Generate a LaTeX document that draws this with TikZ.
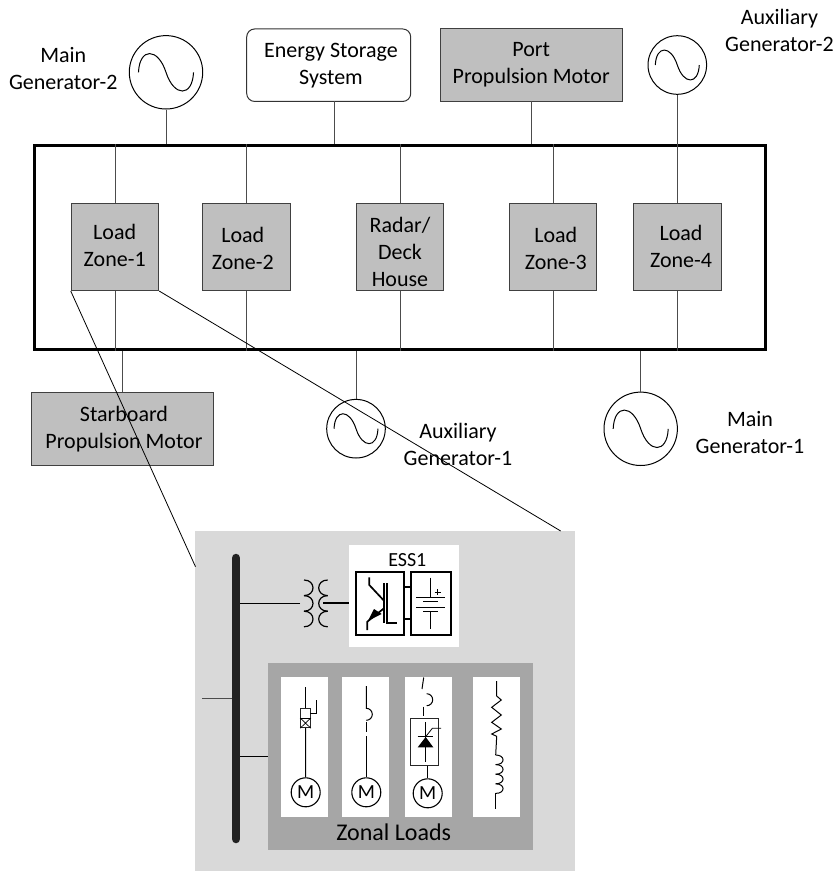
\documentclass[tikz,border=0pt]{standalone}
\usepackage{fontspec}
\setmainfont{Carlito}
\definecolor{blockgray}{HTML}{BFBFBF}
\definecolor{panelgray}{HTML}{D9D9D9}
\definecolor{zonegray}{HTML}{A6A6A6}
\definecolor{buscol}{HTML}{222222}
\tikzset{
  wire/.style={draw=black!70,line width=1pt},
  zoneblock/.style={draw=black!75,fill=blockgray,line width=1pt,minimum width=87.5pt,minimum height=87.5pt,inner sep=0pt},
  bigblock/.style={draw=black!75,fill=blockgray,line width=1pt,minimum height=72.5pt,inner sep=0pt},
  gen/.style={circle,draw=black,line width=1pt,inner sep=0pt},
  wave/.style={draw=black,line width=1pt},
  lbl/.style={align=center,inner sep=0pt,font=\fontsize{22}{27}\selectfont},
  lowered/.style={yshift=-1.5pt},
  motor/.style={circle,draw=black,line width=1.1pt,minimum size=29pt,inner sep=0pt,font=\fontsize{20}{20}\selectfont},
  sym/.style={draw=black,line width=1pt},
  coilwire/.style={draw=black,line width=1.2pt},
  symthick/.style={draw=black,line width=1.7pt},
  strip/.style={fill=white,draw=none,minimum width=47pt,minimum height=140pt,inner sep=0pt},
  zoomline/.style={draw=black,line width=0.8pt}
}
\newcommand{\sinewave}[3]{%
  \draw[wave] (#1-0.75*#3,#2) .. controls (#1-0.72*#3,#2-0.68*#3) and (#1-0.22*#3,#2-0.68*#3) .. (#1,#2) .. controls (#1+0.22*#3,#2+0.68*#3) and (#1+0.72*#3,#2+0.68*#3) .. (#1+0.75*#3,#2);}
\newcommand{\coilright}[4]{%
  \foreach \k in {0,1,2}{\draw[coilwire] (#1,#2+\k*#3) .. controls (#1+1.33*#4,#2+\k*#3) and (#1+1.33*#4,#2+\k*#3+#3) .. (#1,#2+\k*#3+#3);}}
\newcommand{\coilleft}[4]{%
  \foreach \k in {0,1,2}{\draw[coilwire] (#1,#2+\k*#3) .. controls (#1-1.33*#4,#2+\k*#3) and (#1-1.33*#4,#2+\k*#3+#3) .. (#1,#2+\k*#3+#3);}}
\begin{document}
\begin{tikzpicture}[x=1pt,y=-1pt]
\useasboundingbox (0,0) rectangle (838,871);
% top row
\node[gen,minimum size=73.4pt] (g2) at (166,72.3) {};
\sinewave{166}{72.3}{36.7}
\node[lbl,lowered] (g2t) at (63.3,67) {Main\\Generator-2};
\node[draw=black!80,fill=white,rounded corners=8pt,line width=1pt,minimum width=164pt,minimum height=72.5pt,inner sep=0pt] (ess) at (328.7,65.2) {};
\node[lbl,lowered] (esst) at (331,64) {Energy Storage\\System};
\node[bigblock,minimum width=182.3pt,lbl,minimum height=72.5pt] (port) at (531.2,65.2) {Port\\Propulsion Motor};
\node[gen,minimum size=58.6pt] (ag2) at (677.3,65) {};
\sinewave{677.3}{65}{29.3}
\node[lbl,lowered] (ag2t) at (779.5,29) {Auxiliary\\Generator-2};
% main ring
\node[draw=black,line width=3pt,minimum width=731.4pt,minimum height=204pt,inner sep=0pt] (bus) at (400,247) {};
\coordinate (essdrop) at (334,101.4);
\coordinate (portdrop) at (531.3,101.4);
\draw[wire] (g2.south) -- (g2.south |- bus.north);
\draw[wire] (essdrop) -- (essdrop |- bus.north);
\draw[wire] (portdrop) -- (portdrop |- bus.north);
\draw[wire] (ag2.south) -- (ag2.south |- bus.north);
% load zones
\node[zoneblock] (z1) at (115,246.8) {};
\node[zoneblock] (z2) at (246.5,246.8) {};
\node[zoneblock] (z3) at (400,246.8) {};
\node[zoneblock] (z4) at (553.2,246.8) {};
\node[zoneblock] (z5) at (677.3,246.8) {};
\node[lbl,lowered] (z1t) at (114.7,244) {Load\\Zone-1};
\node[lbl,lowered] (z2t) at (242.8,246.5) {Load\\Zone-2};
\node[lbl,lowered] (z3t) at (400,250) {Radar/\\Deck\\House};
\node[lbl,lowered] (z4t) at (555.8,246.5) {Load\\Zone-3};
\node[lbl,lowered] (z5t) at (681,244.5) {Load\\Zone-4};
\foreach \z in {z1,z2,z3,z4,z5}{
  \draw[wire] (\z.north) -- (\z.north |- bus.north);
  \draw[wire] (\z.south) -- (\z.south |- bus.south);
}
% bottom row
\node[bigblock,minimum width=182.4pt,lbl,minimum height=72.6pt] (star) at (122.5,429) {\hspace*{3pt}Starboard\\\hspace*{3pt}Propulsion Motor};
\node[gen,minimum size=58.6pt] (ag1) at (356,428.7) {};
\sinewave{356}{428.7}{29.3}
\node[lbl,lowered] (ag1t) at (458,443) {Auxiliary\\Generator-1};
\node[gen,minimum size=73.4pt] (g1) at (640.7,428.8) {};
\sinewave{640.7}{428.8}{36.7}
\node[lbl,lowered] (g1t) at (750,431) {Main\\Generator-1};
\draw[wire] (star.north) -- (star.north |- bus.south);
\draw[wire] (ag1.north) -- (ag1.north |- bus.south);
\draw[wire] (g1.north) -- (g1.north |- bus.south);
% detail panel
\node[fill=panelgray,minimum width=380pt,minimum height=340pt,inner sep=0pt] (panel) at (385,701) {};
\coordinate (zoomL) at (195.5,566.7);
\coordinate (zoomR) at (560.7,531);
\draw[zoomline] (z1.south west) -- (zoomL);
\draw[zoomline] (z1.south east) -- (zoomR);
% local bus and stubs
\coordinate (lbtop) at (236,558);
\coordinate (lbbot) at (236,839);
\coordinate (stubA) at (202,698);
\coordinate (stubB) at (269,756);
\coordinate (stubC) at (300,603);
\draw[wire] (stubA) -- (stubA -| lbtop);
\draw[sym] (stubB) -- (stubB -| lbtop);
\draw[sym] (stubC) -- (stubC -| lbtop);
\draw[line width=8.5pt,line cap=round,buscol] (lbtop) -- (lbbot);
% ESS block
\node[fill=white,minimum width=110pt,minimum height=101.7pt,inner sep=0pt] (esswhite) at (404,595.8) {};
\node[inner sep=0pt,font=\fontsize{20}{20}\selectfont] (essl) at (407.3,560) {ESS1};
\coilright{304}{580}{15.6}{9}
\coilleft{327.7}{580}{15.6}{9}
\draw[symthick] (323,603) -- (esswhite.west |- 0,603);
\node[draw=black,line width=2pt,minimum width=48.3pt,minimum height=63.6pt,inner sep=0pt] (conv) at (379.8,603.5) {};
\node[draw=black,line width=2pt,minimum width=40.3pt,minimum height=63.6pt,inner sep=0pt] (batt) at (431.2,603.5) {};
\draw[symthick] ([yshift=16.2pt]conv.east) -- ([yshift=16.2pt]batt.west);
\draw[symthick] ([yshift=-15.5pt]conv.east) -- ([yshift=-15.5pt]batt.west);
% IGBT
\draw[symthick] (369.3,577.3) -- (369.3,585) -- (384,600.7);
\draw[symthick] (384,583.3) -- (384,622.7);
\draw[symthick] (387.3,583.3) -- (387.3,622.7) -- (396.7,622.7);
\draw[symthick] (384,608.3) -- (367.3,621.7) -- (367.3,630);
\fill[black] (368,620.7) -- (374,609) -- (381.7,614) -- cycle;
% battery
\draw[sym] (430.3,577.7) -- (430.3,597);
\draw[sym] (416,597) -- (445,597);
\draw[sym] (423.3,601.7) -- (437.7,601.7);
\draw[sym] (416,607) -- (445,607);
\draw[sym] (423.3,611.7) -- (437.7,611.7);
\draw[sym] (430.3,611.7) -- (430.3,629);
\draw[sym] (434.7,592) -- (440.7,592) (437.7,589) -- (437.7,595);
% zonal loads
\node[fill=zonegray,minimum width=265pt,minimum height=187pt,inner sep=0pt] (zonal) at (400.5,756.5) {};
\node[strip] (s1) at (304.5,747) {};
\node[strip] (s2) at (365.5,747) {};
\node[strip] (s3) at (428.5,747) {};
\node[strip] (s4) at (496.5,747) {};
\node[inner sep=0pt,font=\fontsize{24}{24}\selectfont] (zl) at (393.7,832) {Zonal Loads};
% strip 1
\node[motor] (m1) at (305.7,792.3) {M};
\draw[sym] (305.7,687) -- (305.7,708.3);
\node[draw=black!85,line width=1pt,minimum width=9.6pt,minimum height=19.4pt,inner sep=0pt] (brk) at (305.5,718) {};
\draw[sym] (brk.south) -- (m1.north);
\draw[sym] (brk.west) -- (brk.east);
\draw[sym,line width=0.7pt] (brk.west) -- (brk.south east) (brk.east) -- (brk.south west);
\draw[sym] (310.3,713.3) -- (316,713.3) -- (316,700);
% strip 2
\node[motor] (m2) at (366.3,792.3) {M};
\draw[sym] (366.3,686) -- (366.3,708.3) arc[start angle=90,end angle=-90,radius=6pt];
\draw[sym] (366.3,722.3) -- (366.3,731.7);
\coordinate (m2up) at (366.3,736);
\draw[sym] (m2up) -- (m2.north);
% strip 3
\node[motor] (m3) at (427.7,793.3) {M};
\draw[sym] (423.7,677.5) -- (422,689);
\draw[sym] (426.7,693.7) arc[start angle=90,end angle=-90,radius=6pt];
\draw[sym] (423.7,706.7) -- (423.7,716);
\node[draw=black!85,line width=1pt,minimum width=28.3pt,minimum height=47pt,inner sep=0pt] (thy) at (424.2,741.8) {};
\draw[sym] (thy.south -| m3.north) -- (m3.north);
\draw[sym] (425.7,722) -- (425.7,761.7);
\draw[sym] (417.7,736.7) -- (433.3,736.7);
\fill[black] (425.7,737) -- (417.7,747.3) -- (433.3,747.3) -- cycle;
\draw[sym,line width=0.8pt] (425.7,736.7) -- (432.3,728.3) -- (441,728.3);
% strip 4
\draw[sym] (496.7,681) -- (496.7,696) -- (501.3,700) -- (491.7,707.3) -- (501.3,715) -- (491.7,722.3) -- (501.3,729) -- (491.7,734) -- (496.7,736.3) -- (495.7,755);
\foreach \k in {0,1,2,3}{\draw[sym] (495.7,755+\k*9.6) .. controls (505.5,755+\k*9.6) and (505.5,764.6+\k*9.6) .. (495.7,764.6+\k*9.6);}
\draw[sym] (495.7,793.4) -- (495.7,809.3);
\end{tikzpicture}
\end{document}
